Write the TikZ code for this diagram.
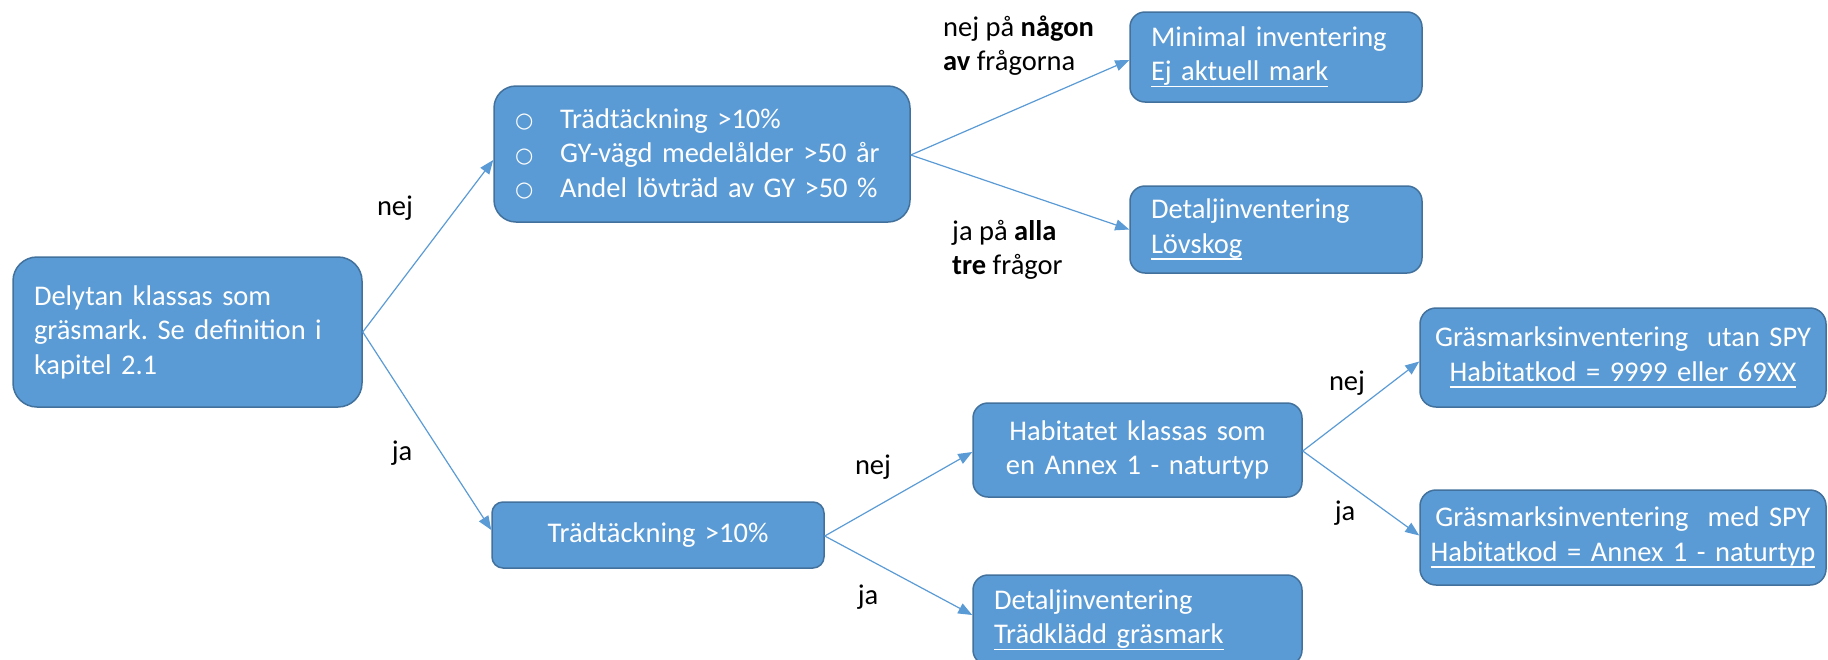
\documentclass[tikz,border=0pt]{standalone}
\usepackage{fontspec}
\setmainfont{Carlito}
\newfontfamily\bulletfont{DejaVu Sans}
\frenchspacing
\newlength{\ulwd}
\newcommand{\ulin}[1]{\leavevmode\settowidth{\ulwd}{#1}\rlap{\rule[-6.5pt]{\ulwd}{1.5pt}}#1}
\newcommand{\qbul}{\makebox[45pt][l]{\raisebox{0.5pt}{\bulletfont\fontsize{21pt}{21pt}\selectfont ○}}}
\usetikzlibrary{arrows.meta}
\definecolor{boxfill}{HTML}{5B9BD5}
\definecolor{boxline}{HTML}{41719C}
\definecolor{arrowcol}{HTML}{5B9BD5}
\tikzset{
  box/.style={draw=boxline, fill=boxfill, line width=1.5pt, text=white,
    font=\fontsize{28.5pt}{34.5pt}\selectfont, inner ysep=0pt, inner xsep=21pt},
  conn/.style={draw=arrowcol, line width=1.2pt, -{Triangle[length=14pt,width=11pt]}},
  lbl/.style={text=black, font=\fontsize{28.5pt}{34.5pt}\selectfont, inner sep=0pt},
}
\begin{document}
\begin{tikzpicture}[x=1pt,y=-1pt]
\useasboundingbox (0,0) rectangle (1828,659);
\clip (0,0) rectangle (1828,659);
% boxes
\node[box, rounded corners=24pt, minimum height=150pt, text width=307pt, align=left]
  (delytan) at (187.5,332) {Delytan klassas som\\gräsmark. Se definition i\\kapitel 2.1};
\node[box, rounded corners=22pt, minimum height=136pt, text width=374pt, inner xsep=21pt, align=left]
  (fragor) at (702,154) {\qbul Trädtäckning >10\%\\
  \qbul GY-vägd medelålder >50 år\\
  \qbul Andel lövträd av GY >50 \%};
\node[box, rounded corners=15pt, minimum height=90pt, text width=250pt, align=left]
  (minimal) at (1276,57) {Minimal inventering\\\ulin{Ej aktuell mark}};
\node[box, rounded corners=15pt, minimum height=87pt, text width=250pt, align=left]
  (lovskog) at (1276,229.5) {Detaljinventering\\\ulin{Lövskog}};
\node[box, rounded corners=11pt, minimum height=66pt, text width=290pt, align=center]
  (trad) at (658,535) {Trädtäckning >10\%};
\node[box, rounded corners=15pt, minimum height=94pt, text width=287pt, align=center]
  (habitat) at (1137.5,450) {Habitatet klassas som\\en Annex 1 - naturtyp};
\node[box, rounded corners=15pt, minimum height=90pt, text width=287pt, align=left]
  (tradklad) at (1137.5,620) {Detaljinventering\\\ulin{Trädklädd gräsmark}};
\node[box, rounded corners=16pt, minimum height=99pt, text width=386pt, inner xsep=10pt, align=center]
  (utan) at (1623,357.5) {Gräsmarksinventering\ \ utan SPY\\\ulin{Habitatkod = 9999 eller 69XX}};
\node[box, rounded corners=16pt, minimum height=95pt, text width=386pt, inner xsep=10pt, align=center]
  (med) at (1623,537.5) {Gräsmarksinventering\ \ med SPY\\\ulin{Habitatkod = Annex 1 - naturtyp}};
% connectors
\draw[conn] (delytan.east) -- ([yshift=-6pt]fragor.west);
\draw[conn] (delytan.east) -- ([yshift=5pt]trad.west);
\draw[conn] ([yshift=-1pt]fragor.east) -- ([yshift=-3pt]minimal.west);
\draw[conn] ([yshift=-1pt]fragor.east) -- (lovskog.west);
\draw[conn] ([yshift=-1pt]trad.east) -- ([yshift=-2pt]habitat.west);
\draw[conn] ([yshift=-1pt]trad.east) -- ([yshift=5pt]tradklad.west);
\draw[conn] ([yshift=-1pt]habitat.east) -- ([yshift=-4pt]utan.west);
\draw[conn] ([yshift=-1pt]habitat.east) -- ([yshift=2pt]med.west);
% labels
\node[lbl] (nej1) at (395,208) {nej};
\node[lbl] (ja1) at (402,453) {ja};
\node[lbl, anchor=west, align=left] (nejpa) at (943,45.5) {nej på \textbf{någon}\\\textbf{av} frågorna};
\node[lbl, anchor=west, align=left] (japa) at (952,250) {ja på \textbf{alla}\\\textbf{tre} frågor};
\node[lbl] (nej2) at (873,467) {nej};
\node[lbl] (ja2) at (868,597) {ja};
\node[lbl] (nej3) at (1347,383) {nej};
\node[lbl] (ja3) at (1345,513) {ja};
\end{tikzpicture}
\end{document}
